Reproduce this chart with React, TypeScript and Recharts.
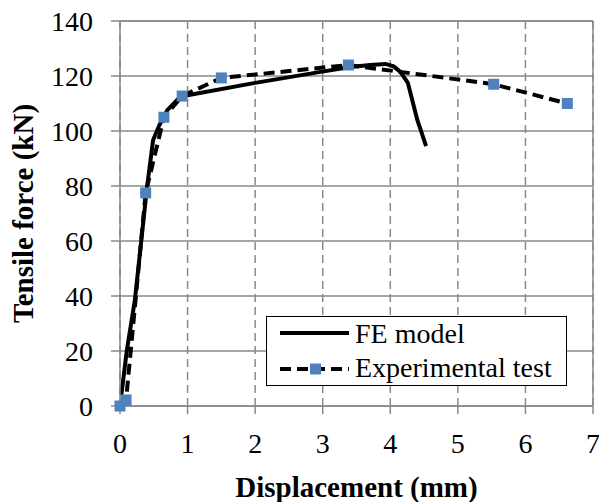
import React from "react";
import {
  LineChart,
  Line,
  XAxis,
  YAxis,
  CartesianGrid,
  ReferenceLine,
  Legend,
} from "recharts";

const feX = [0.02, 0.1, 0.22, 0.4, 0.49, 0.58, 0.7, 0.89, 1.0, 2.0, 2.97, 3.41, 3.7, 3.93, 4.05, 4.15, 4.26, 4.4, 4.53];
const feY = [4, 20, 38.5, 79.6, 96.7, 102, 107.6, 112.4, 113, 117.5, 121.5, 123.3, 124, 124.4, 123.5, 121.5, 117.5, 104, 94.5];

const expX = [0, 0.09, 0.38, 0.65, 0.92, 1.5, 3.38, 5.53, 6.62];
const expY = [0, 2.2, 77.5, 105, 112.7, 119.3, 124, 117, 110];

const xTicks = [0, 1, 2, 3, 4, 5, 6, 7];
const yTicks = [0, 20, 40, 60, 80, 100, 120, 140];

const seriesNames = ["FE model", "Experimental test"];
const xTitle = "Displacement (mm)";
const yTitle = "Tensile force (kN)";

const feData = feX.map((x, i) => ({ x, y: feY[i] }));
const expData = expX.map((x, i) => ({ x, y: expY[i] }));

const FONT = '"Liberation Serif", "Times New Roman", serif';
const GRAY = "#898989";
const BLUE = "#4F81BD";

const txt = (size: number, bold = false): React.CSSProperties => ({
  fontFamily: FONT,
  fontSize: size,
  fontWeight: bold ? 700 : 400,
  fill: "#000",
});

const XTick = (props: any) => {
  const { x, y, payload } = props;
  return (
    <text x={x} y={y} dy={37} textAnchor="middle" style={txt(28)}>
      {payload.value}
    </text>
  );
};

const YTick = (props: any) => {
  const { x, y, payload } = props;
  return (
    <text x={x - 16} y={y} dy={9.5} textAnchor="end" style={txt(28)}>
      {payload.value}
    </text>
  );
};

const XTitle = (props: any) => {
  const vb = props.viewBox || {};
  const cx = vb.x + vb.width / 2;
  return (
    <text x={cx} y={497} textAnchor="middle" style={txt(29, true)}>
      {xTitle}
    </text>
  );
};

const YTitle = (props: any) => {
  const vb = props.viewBox || {};
  const cy = vb.y + vb.height / 2;
  return (
    <text x={33} y={cy} transform={`rotate(-90, 33, ${cy})`} textAnchor="middle" style={txt(29, true)}>
      {yTitle}
    </text>
  );
};

const SquareDot = (props: any) => {
  const { cx, cy, index } = props;
  if (cx == null || cy == null) return <g key={`d${index}`} />;
  return <rect key={`d${index}`} x={cx - 5.5} y={cy - 5.5} width={11} height={11} fill={BLUE} />;
};

const LegendBox = () => (
  <div
    style={{
      width: 301,
      height: 70,
      boxSizing: "border-box",
      border: "1.5px solid #000",
      background: "#fff",
      position: "relative",
      fontFamily: FONT,
    }}
  >
    <svg width={298} height={67} style={{ position: "absolute", left: 0, top: 0 }}>
      <line x1={13} y1={16} x2={82} y2={16} stroke="#000" strokeWidth={4} />
      <text x={88} y={26} style={txt(28)}>
        {seriesNames[0]}
      </text>
      <line x1={13} y1={52} x2={82} y2={52} stroke="#000" strokeWidth={4} strokeDasharray="11 6" />
      <rect x={43} y={46.5} width={11} height={11} fill={BLUE} />
      <text x={88} y={60} style={txt(28)}>
        {seriesNames[1]}
      </text>
    </svg>
  </div>
);

export default function App() {
  return (
    <div style={{ position: "absolute", left: 0, top: 0, width: 599, height: 502, background: "#fff", fontFamily: FONT }}>
      <LineChart
        width={599}
        height={502}
        margin={{ top: 21, right: 6, bottom: 0, left: 0 }}
        style={{ fontFamily: FONT }}
      >
        <CartesianGrid horizontal={true} vertical={false} stroke={GRAY} strokeWidth={1.5} />
        <CartesianGrid horizontal={false} vertical={true} stroke={GRAY} strokeWidth={1.5} strokeDasharray="8 5" />
        <XAxis
          type="number"
          dataKey="x"
          domain={[0, 7]}
          ticks={xTicks}
          interval={0}
          height={96}
          stroke={GRAY}
          strokeWidth={1.5}
          tickSize={8}
          tickMargin={2}
          tick={<XTick />}
          label={<XTitle />}
        />
        <YAxis
          type="number"
          dataKey="y"
          domain={[0, 140]}
          ticks={yTicks}
          interval={0}
          width={120}
          stroke={GRAY}
          strokeWidth={1.5}
          tickSize={9}
          tickMargin={2}
          tick={<YTick />}
          label={<YTitle />}
        />
        <ReferenceLine x={7} stroke={GRAY} strokeWidth={1.5} />
        <ReferenceLine y={140} stroke={GRAY} strokeWidth={1.5} />
        <Line
          data={feData}
          dataKey="y"
          name={seriesNames[0]}
          type="linear"
          stroke="#000"
          strokeWidth={4}
          dot={false}
          isAnimationActive={false}
        />
        <Line
          data={expData}
          dataKey="y"
          name={seriesNames[1]}
          type="linear"
          stroke="#000"
          strokeWidth={4}
          strokeDasharray="11 6"
          dot={<SquareDot />}
          activeDot={false}
          isAnimationActive={false}
        />
        <Legend
          layout="horizontal"
          verticalAlign="middle"
          align="center"
          content={<LegendBox />}
          wrapperStyle={{ left: 266, top: 316, width: 301, height: 70 }}
        />
      </LineChart>
    </div>
  );
}
